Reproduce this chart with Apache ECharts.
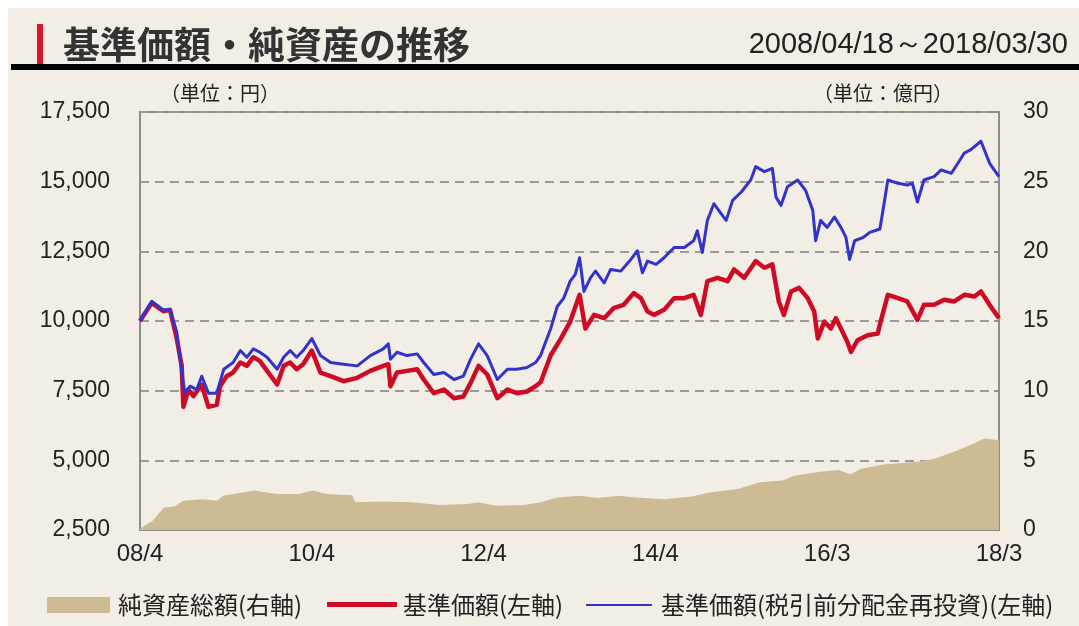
<!DOCTYPE html>
<html>
<head>
<meta charset="utf-8">
<script src="https://cdn.jsdelivr.net/npm/echarts@6/dist/echarts.min.js"></script>
<style>
html,body{margin:0;padding:0;background:#fff;}
#chart{width:1079px;height:626px;}
</style>
</head>
<body>
<div id="chart"></div>
<script>
// x positions are months since 2008/04/18
const xLabels = ['08/4', '10/4', '12/4', '14/4', '16/3', '18/3'];

// 基準価額 (左軸)
const navT = [0,1.62,3.24,4.16,5.09,5.78,6.01,6.7,7.4,8.55,9.48,10.63,11.1,12.0,12.9,13.9,14.8,15.7,16.6,17.6,19.0,19.9,20.8,21.7,22.6,23.8,25.0,26.4,28.2,30.1,31.9,33.7,34.4,34.7,35.6,37.0,38.4,39.3,40.7,42.1,43.5,44.8,45.8,46.9,48.1,49.5,50.9,52.2,53.6,54.8,55.5,56.9,58.3,59.6,60.9,61.7,62.9,64.3,65.6,67.0,68.4,69.4,70.3,71.2,72.6,74.0,75.4,76.7,77.7,78.6,80.0,81.4,82.3,83.7,85.3,86.5,87.6,88.5,89.2,90.2,91.3,92.5,93.4,93.9,94.8,95.7,96.4,97.1,98.0,98.5,99.4,100.8,102.2,102.6,103.6,105.0,106.3,107.7,108.6,110.0,111.4,112.8,114.2,115.6,116.5,117.7,119.0];
const navV = [10000,10650,10350,10400,9370,8390,6920,7540,7300,7720,6920,6990,7660,8020,8150,8510,8390,8700,8570,8210,7720,8390,8510,8270,8450,8940,8150,8020,7840,7960,8210,8390,8450,7660,8150,8210,8270,7900,7410,7540,7230,7290,7780,8390,8080,7230,7540,7410,7470,7660,7800,8770,9370,9980,10940,9730,10220,10100,10460,10580,11000,10820,10340,10220,10400,10820,10820,10940,10220,11430,11550,11430,11850,11550,12150,11910,12030,10700,10220,11060,11190,10820,10340,9370,9980,9730,10100,9730,9250,8890,9310,9490,9550,9980,10940,10820,10700,10040,10580,10580,10760,10700,10940,10880,11060,10580,10100];

// 基準価額(税引前分配金再投資) (左軸)
const reinvT = [0,1.62,3.24,4.16,5.09,5.78,6.24,6.94,7.86,8.55,9.48,10.63,11.6,12.9,13.9,14.8,15.7,16.6,17.6,19.0,19.9,20.8,21.7,22.6,23.8,25.0,26.4,28.2,30.1,31.9,33.7,34.4,34.7,35.6,37.0,38.4,39.3,40.7,42.1,43.5,44.8,45.8,46.9,48.1,49.5,50.9,52.2,53.6,54.8,55.5,56.9,57.8,58.7,59.6,60.3,60.9,61.5,62.4,63.1,64.3,65.2,66.6,68.0,68.9,69.6,70.3,71.5,72.6,74.0,75.4,76.7,77.2,77.9,78.6,79.5,80.5,81.2,82.1,83.3,84.6,85.3,86.5,87.6,88.1,88.8,89.7,91.1,92.2,93.2,93.6,94.3,95.2,96.2,97.1,97.8,98.3,99.0,100.2,101.1,102.5,103.0,103.6,105.0,106.3,107.0,107.7,108.6,110.0,111.0,112.4,113.3,114.2,115.1,116.5,117.7,119.0];
const reinvV = [10000,10710,10400,10400,9610,8150,7410,7660,7540,8020,7410,7410,8270,8510,8940,8700,9000,8880,8700,8270,8700,8940,8700,8940,9370,8760,8510,8450,8390,8760,9000,9180,8630,8880,8760,8820,8510,8080,8150,7900,8020,8630,9180,8760,7900,8270,8270,8330,8510,8770,9730,10520,10820,11430,11670,12270,11060,11550,11790,11370,11850,11790,12210,12520,11730,12150,12030,12270,12640,12640,12880,13240,12460,13610,14210,13850,13610,14330,14630,15060,15540,15360,15480,14450,14150,14820,15060,14690,13970,12880,13610,13360,13730,13360,13000,12210,12880,13000,13180,13300,14090,15060,14940,14880,14940,14270,15060,15180,15420,15300,15660,16030,16150,16450,15660,15180];

// 純資産総額 (右軸, 億円)
const assetsT = [0,1.73,3.29,4.84,6.02,8.75,10.7,11.5,14.2,15.8,18.9,22.0,23.9,25.9,29.4,29.8,33.7,37.6,41.5,45.4,46.9,49.3,53.2,55.5,57.8,60.9,63.3,66.4,68.7,72.6,76.5,78.9,82.8,85.9,89.0,90.6,94.5,96.8,98.4,99.9,103.0,107.7,110.0,113.2,115.5,117.0,119.0];
const assetsV = [0.1,0.65,1.6,1.7,2.1,2.2,2.1,2.46,2.7,2.83,2.58,2.58,2.83,2.58,2.5,2.0,2.05,2.0,1.8,1.86,2.0,1.74,1.8,2.0,2.34,2.46,2.3,2.46,2.34,2.2,2.4,2.7,2.95,3.43,3.55,3.9,4.2,4.3,4.0,4.4,4.7,4.9,5.1,5.7,6.2,6.57,6.45];

const titleText = '基準価額・純資産の推移';
const periodText = '2008/04/18～2018/03/30';
const leftUnit = '（単位：円）';
const rightUnit = '（単位：億円）';
const legendNames = ['純資産総額(右軸)', '基準価額(左軸)', '基準価額(税引前分配金再投資)(左軸)'];

const pair = (ts, vs) => ts.map((t, i) => [t, vs[i]]);
const fmtComma = v => String(v).replace(/\B(?=(\d{3})+(?!\d))/g, ',');

const COL_AREA = '#cdbb94', COL_RED = '#cf0a25', COL_BLUE = '#3333cc';
const COL_BG = '#f2eee6', COL_AX = '#8c8c8c';
const NUM_FONT = '"Liberation Sans", Arial, sans-serif';
const JP_FONT = '"Noto Sans CJK JP", sans-serif';

const chart = echarts.init(document.getElementById('chart'));
chart.setOption({
  backgroundColor: '#ffffff',
  animation: false,
  grid: { left: 140, top: 112, right: 80, bottom: 96, show: true, borderColor: COL_AX, borderWidth: 2, backgroundColor: 'transparent' },
  xAxis: {
    type: 'value', min: 0, max: 119, interval: 23.8,
    axisLine: { show: true, lineStyle: { color: COL_AX, width: 2 } },
    axisTick: { show: true, inside: true, length: 6, lineStyle: { color: COL_AX, width: 1.5 } },
    splitLine: { show: false },
    axisLabel: {
      margin: 12, color: '#222', fontSize: 24, fontFamily: NUM_FONT,
      showMinLabel: true, showMaxLabel: true,
      formatter: v => xLabels[Math.round(v / 23.8)] || ''
    }
  },
  yAxis: [
    {
      type: 'value', min: 2500, max: 17500, interval: 2500, position: 'left',
      axisLine: { show: true, lineStyle: { color: COL_AX, width: 2 } },
      axisTick: { show: false },
      splitLine: { show: true, lineStyle: { color: '#9a9a9a', width: 2, type: [9, 6] } },
      axisLabel: { margin: 30, color: '#222', fontSize: 23, fontFamily: NUM_FONT, formatter: v => fmtComma(v) }
    },
    {
      type: 'value', min: 0, max: 30, interval: 5, position: 'right',
      axisLine: { show: true, lineStyle: { color: COL_AX, width: 2 } },
      axisTick: { show: true, inside: true, length: 5, lineStyle: { color: COL_AX, width: 1.5 } },
      splitLine: { show: false },
      axisLabel: { margin: 24, color: '#222', fontSize: 23, fontFamily: NUM_FONT }
    }
  ],
  series: [
    {
      name: legendNames[0], type: 'line', yAxisIndex: 1, symbol: 'none',
      data: pair(assetsT, assetsV),
      lineStyle: { width: 0, color: COL_AREA },
      itemStyle: { color: COL_AREA },
      areaStyle: { color: COL_AREA, opacity: 1 },
      z: 1
    },
    {
      name: legendNames[1], type: 'line', yAxisIndex: 0, symbol: 'none',
      data: pair(navT, navV),
      lineStyle: { width: 4.5, color: COL_RED, join: 'round' },
      itemStyle: { color: COL_RED },
      z: 3
    },
    {
      name: legendNames[2], type: 'line', yAxisIndex: 0, symbol: 'none',
      data: pair(reinvT, reinvV),
      lineStyle: { width: 3, color: COL_BLUE, join: 'round' },
      itemStyle: { color: COL_BLUE },
      z: 4
    }
  ],
  graphic: [
    { type: 'rect', z: -100, silent: true, shape: { x: 8, y: 8, width: 1071, height: 618 }, style: { fill: COL_BG } },
    { type: 'rect', shape: { x: 37, y: 24, width: 6, height: 40 }, style: { fill: '#d7182a' } },
    { type: 'text', x: 63, y: 45, style: { text: titleText, font: 'bold 37px ' + JP_FONT, fill: '#333', textVerticalAlign: 'middle' } },
    { type: 'text', x: 1068, y: 45, style: { text: periodText, font: '29px ' + NUM_FONT, fill: '#222', textAlign: 'right', textVerticalAlign: 'middle' } },
    { type: 'rect', shape: { x: 11, y: 64, width: 1068, height: 6 }, style: { fill: '#000' } },
    { type: 'text', x: 160, y: 93, style: { text: leftUnit, font: '20px ' + JP_FONT, fill: '#222', textVerticalAlign: 'middle' } },
    { type: 'text', x: 813, y: 93, style: { text: rightUnit, font: '20px ' + JP_FONT, fill: '#222', textVerticalAlign: 'middle' } },
    // legend
    { type: 'rect', shape: { x: 47, y: 597, width: 63, height: 16 }, style: { fill: COL_AREA } },
    { type: 'text', x: 118, y: 605, style: { text: legendNames[0], font: '24px ' + JP_FONT, fill: '#222', textVerticalAlign: 'middle' } },
    { type: 'rect', shape: { x: 327, y: 602, width: 70, height: 5 }, style: { fill: COL_RED } },
    { type: 'text', x: 403, y: 605, style: { text: legendNames[1], font: '24px ' + JP_FONT, fill: '#222', textVerticalAlign: 'middle' } },
    { type: 'rect', shape: { x: 586, y: 604, width: 66, height: 2 }, style: { fill: COL_BLUE } },
    { type: 'text', x: 661, y: 605, style: { text: legendNames[2], font: '24px ' + JP_FONT, fill: '#222', textVerticalAlign: 'middle' } }
  ]
});
</script>
</body>
</html>
